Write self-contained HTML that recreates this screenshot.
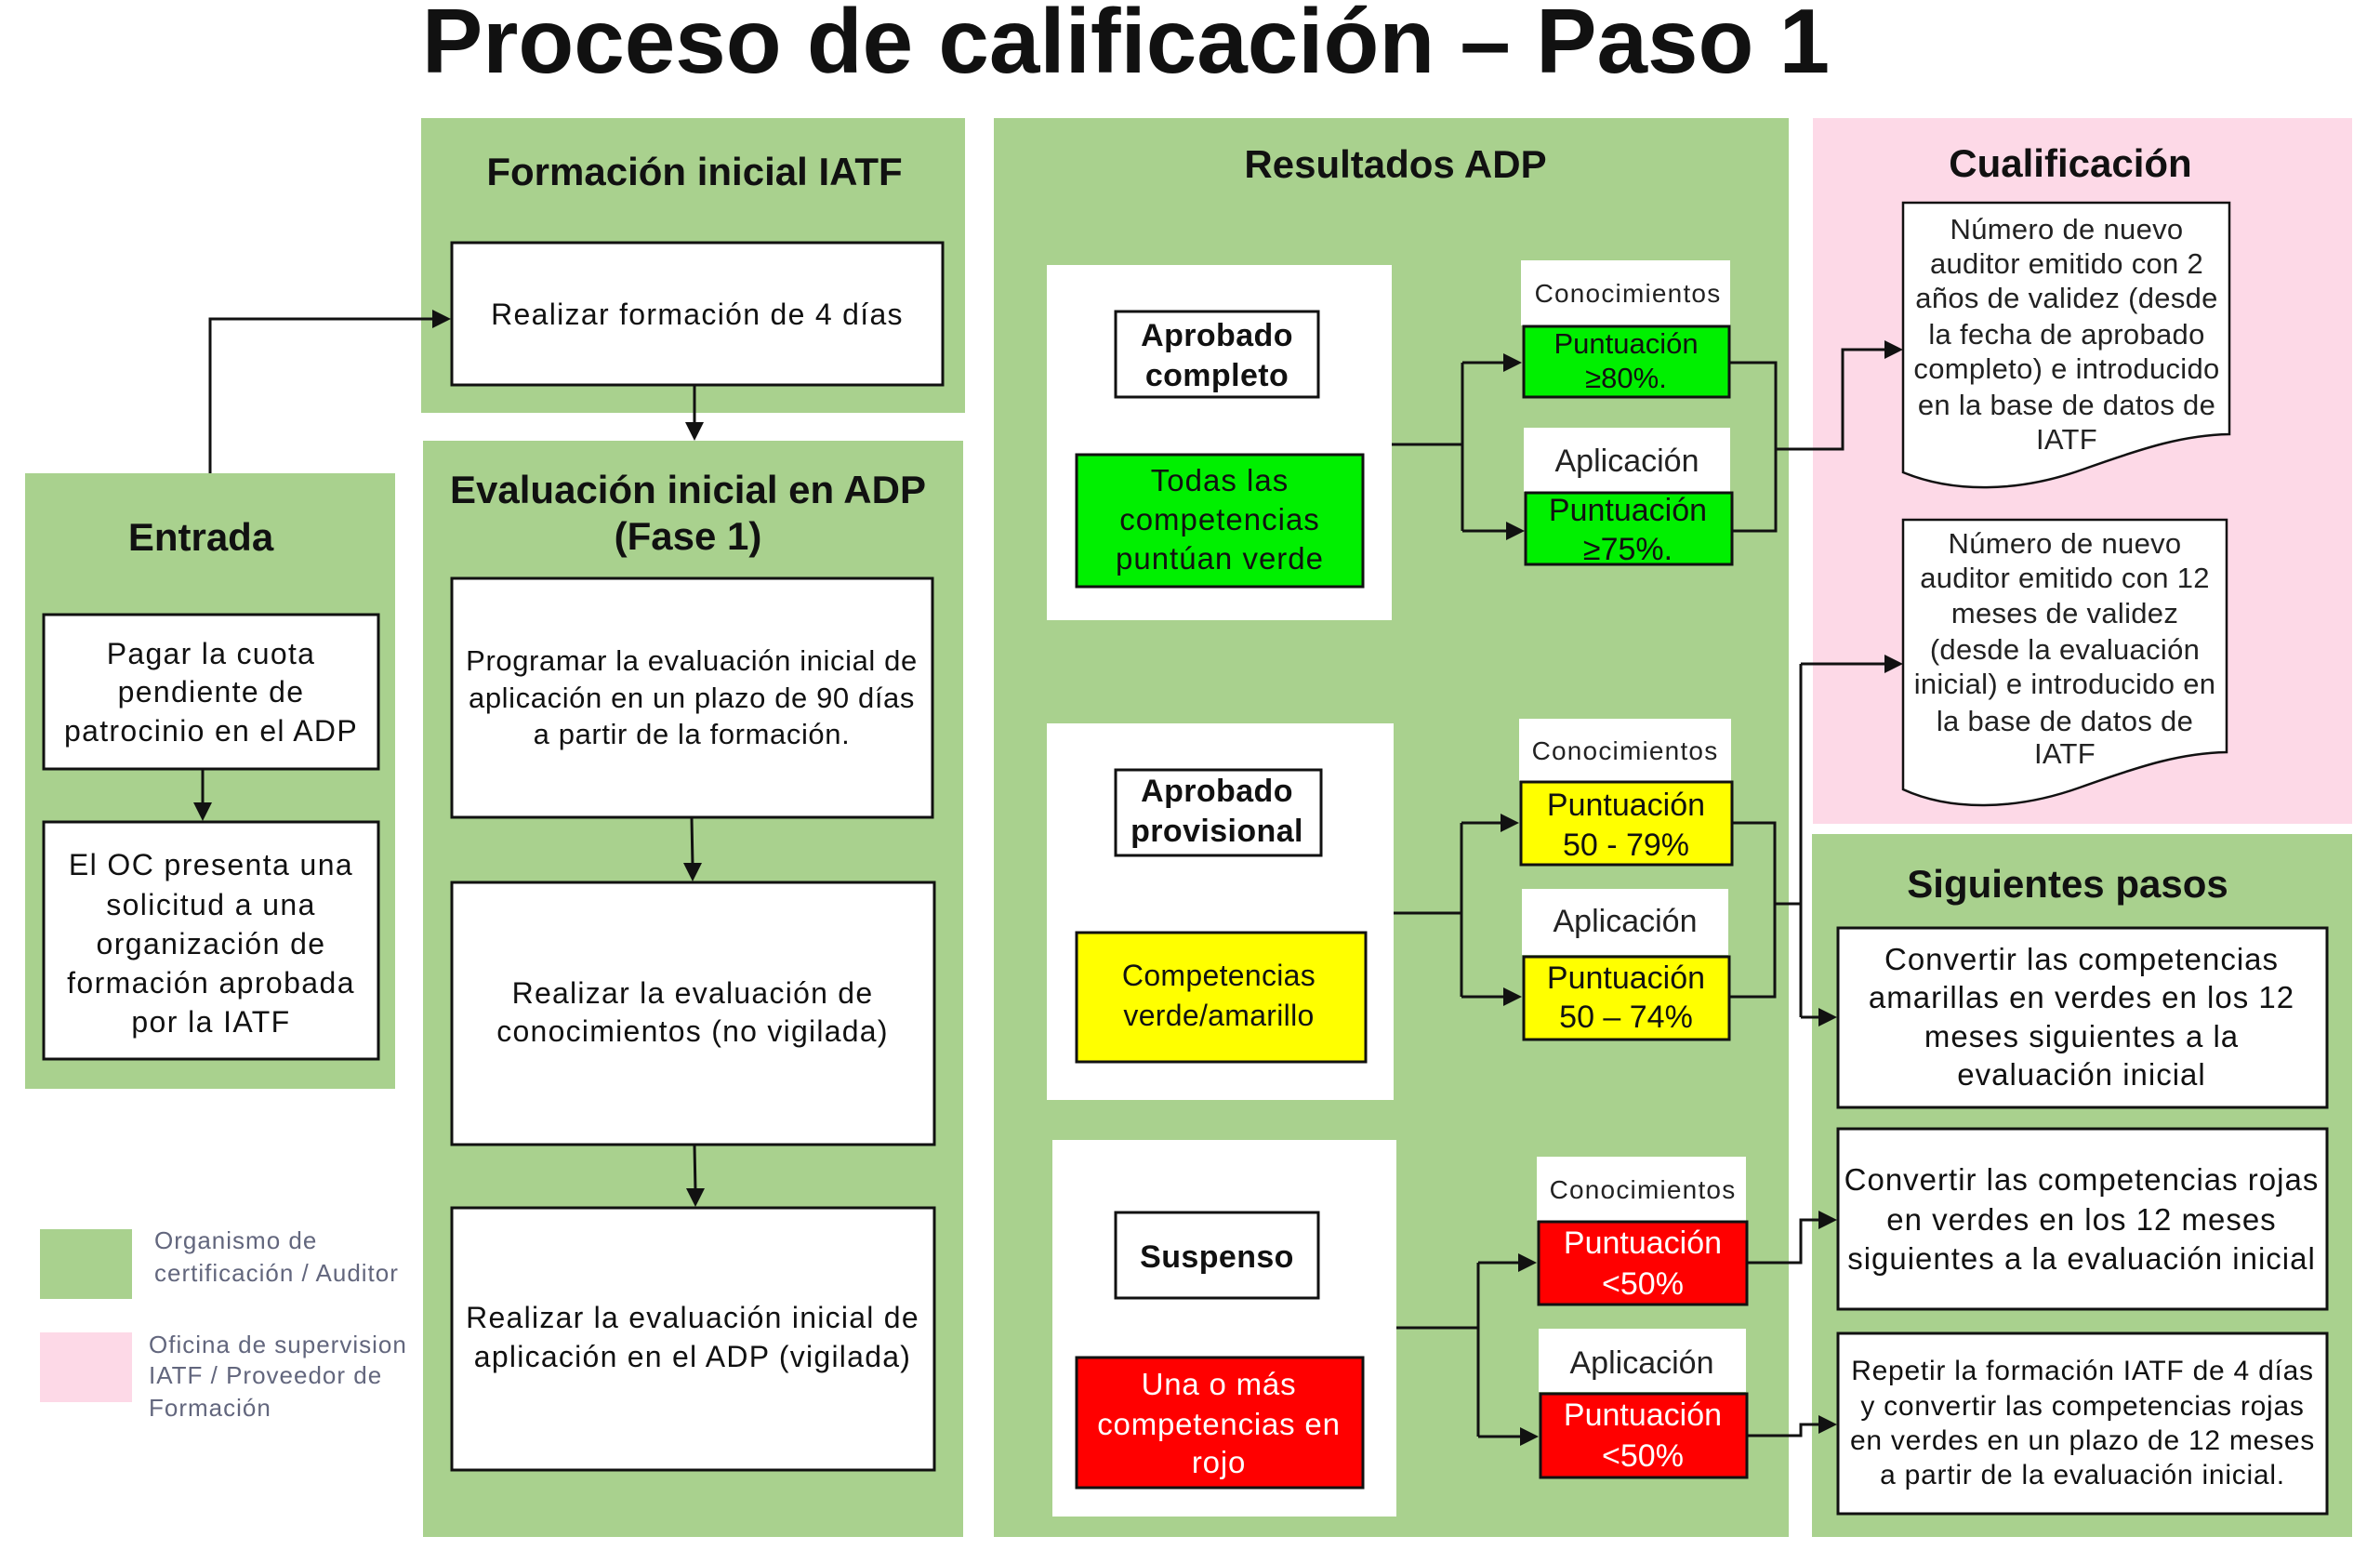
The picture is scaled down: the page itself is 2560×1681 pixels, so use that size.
<!DOCTYPE html>
<html><head><meta charset="utf-8"><style>
html,body{margin:0;padding:0;background:#fff;overflow:hidden;}
svg{display:block;}
text{font-family:"Liberation Sans",Arial,sans-serif;fill:#111;}
.h{font-size:42px;font-weight:bold;}
.t{font-size:32px;letter-spacing:1.3px;}
.bb{font-size:34px;font-weight:bold;letter-spacing:0.4px;}
.cn{font-size:28px;letter-spacing:1.2px;fill:#222;}
.ap{font-size:34px;fill:#222;}
.p{font-size:34px;}
.doc{font-size:31px;letter-spacing:0.3px;fill:#222;}
.sg{font-size:33px;letter-spacing:1px;}
.sg3{font-size:30px;letter-spacing:0.75px;}
.lg{font-size:26px;letter-spacing:1px;fill:#62667d;}
.w{fill:#fff;}
.ln{fill:none;stroke:#111;stroke-width:3;}
.bx{fill:#fff;stroke:#111;stroke-width:3;}
.ar{fill:#111;}
</style></head><body>
<svg width="2560" height="1681" viewBox="0 0 2560 1681" xmlns="http://www.w3.org/2000/svg">
<rect width="2560" height="1681" fill="#fff"/>

<!-- Title -->
<text x="1211" y="78" font-size="98" font-weight="bold" text-anchor="middle">Proceso de calificación – Paso 1</text>

<!-- Panels -->
<rect x="453" y="127" width="585" height="317" fill="#a9d18e"/>
<rect x="455" y="474" width="581" height="1179" fill="#a9d18e"/>
<rect x="27" y="509" width="398" height="662" fill="#a9d18e"/>
<rect x="1069" y="127" width="855" height="1526" fill="#a9d18e"/>
<rect x="1950" y="127" width="580" height="759" fill="#fdd9e7"/>
<rect x="1949" y="897" width="581" height="756" fill="#a9d18e"/>

<!-- Legend -->
<rect x="43" y="1322" width="99" height="75" fill="#a9d18e"/>
<rect x="43" y="1433" width="99" height="75" fill="#fdd9e7"/>
<text class="lg" x="166" y="1343">Organismo de</text>
<text class="lg" x="166" y="1378">certificación / Auditor</text>
<text class="lg" x="160" y="1455">Oficina de supervision</text>
<text class="lg" x="160" y="1488">IATF  / Proveedor de</text>
<text class="lg" x="160" y="1523">Formación</text>

<!-- Headers -->
<text class="h" x="747" y="199" text-anchor="middle">Formación inicial IATF</text>
<text class="h" x="740" y="541" text-anchor="middle">Evaluación inicial en ADP</text>
<text class="h" x="740" y="591" text-anchor="middle">(Fase 1)</text>
<text class="h" x="216" y="592" text-anchor="middle">Entrada</text>
<text class="h" x="1501" y="191" text-anchor="middle">Resultados ADP</text>
<text class="h" x="2227" y="190" text-anchor="middle">Cualificación</text>
<text class="h" x="2224" y="965" text-anchor="middle">Siguientes pasos</text>

<!-- Left column boxes -->
<rect class="bx" x="486" y="261" width="528" height="153"/>
<text class="t" x="750" y="349" text-anchor="middle">Realizar formación de 4 días</text>

<rect class="bx" x="486" y="622" width="517" height="257"/>
<text class="t" x="744" y="721" text-anchor="middle" style="font-size:31px;letter-spacing:0.6px">Programar la evaluación inicial de</text>
<text class="t" x="744" y="761" text-anchor="middle" style="font-size:31px;letter-spacing:0.6px">aplicación en un plazo de 90 días</text>
<text class="t" x="744" y="800" text-anchor="middle" style="font-size:31px;letter-spacing:0.6px">a partir de la formación.</text>

<rect class="bx" x="486" y="949" width="519" height="282"/>
<text class="t" x="745" y="1079" text-anchor="middle" style="letter-spacing:1.25px">Realizar la evaluación de</text>
<text class="t" x="745" y="1120" text-anchor="middle" style="letter-spacing:1.25px">conocimientos (no vigilada)</text>

<rect class="bx" x="486" y="1299" width="519" height="282"/>
<text class="t" x="745" y="1428" text-anchor="middle" style="letter-spacing:1.25px">Realizar la evaluación inicial de</text>
<text class="t" x="745" y="1470" text-anchor="middle" style="letter-spacing:1.25px">aplicación en el ADP (vigilada)</text>

<rect class="bx" x="47" y="661" width="360" height="166"/>
<text class="t" x="227" y="714" text-anchor="middle">Pagar la cuota</text>
<text class="t" x="227" y="755" text-anchor="middle">pendiente de</text>
<text class="t" x="227" y="797" text-anchor="middle">patrocinio en el ADP</text>

<rect class="bx" x="47" y="884" width="360" height="255"/>
<text class="t" x="227" y="941" text-anchor="middle" style="letter-spacing:1.4px">El OC presenta una</text>
<text class="t" x="227" y="984" text-anchor="middle" style="letter-spacing:1.4px">solicitud a una</text>
<text class="t" x="227" y="1026" text-anchor="middle" style="letter-spacing:1.4px">organización de</text>
<text class="t" x="227" y="1068" text-anchor="middle" style="letter-spacing:1.4px">formación aprobada</text>
<text class="t" x="227" y="1110" text-anchor="middle" style="letter-spacing:1.4px">por la IATF</text>

<!-- Left connectors -->
<path class="ln" d="M226,509 V343 H468"/>
<polygon class="ar" points="485,343 465,333 465,353"/>
<path class="ln" d="M218,828 V866"/>
<polygon class="ar" points="218,883 208,863 228,863"/>
<path class="ln" d="M747,415 V457"/>
<polygon class="ar" points="747,474 737,454 757,454"/>
<path class="ln" d="M744,880 L745,931"/>
<polygon class="ar" points="745,948 735,928 755,928"/>
<path class="ln" d="M747,1232 L748,1281"/>
<polygon class="ar" points="748,1298 738,1278 758,1278"/>

<!-- Resultados: panel A -->
<rect x="1126" y="285" width="371" height="382" fill="#fff"/>
<rect class="bx" x="1200" y="335" width="218" height="92"/>
<text class="bb" x="1309" y="372" text-anchor="middle">Aprobado</text>
<text class="bb" x="1309" y="415" text-anchor="middle">completo</text>
<rect x="1158" y="489" width="308" height="142" fill="#00f000" stroke="#111" stroke-width="3"/>
<text class="t" x="1312" y="528" text-anchor="middle" style="font-size:33px;letter-spacing:1px">Todas las</text>
<text class="t" x="1312" y="570" text-anchor="middle" style="font-size:33px;letter-spacing:1px">competencias</text>
<text class="t" x="1312" y="612" text-anchor="middle" style="font-size:33px;letter-spacing:1px">puntúan verde</text>

<rect x="1636" y="280" width="225" height="70" fill="#fff"/>
<text class="cn" x="1751" y="325" text-anchor="middle">Conocimientos</text>
<rect x="1639" y="351" width="221" height="76" fill="#00f000" stroke="#111" stroke-width="3"/>
<text class="p" x="1749" y="380" text-anchor="middle" style="font-size:31px">Puntuación</text>
<text class="p" x="1749" y="417" text-anchor="middle" style="font-size:31px">≥80%.</text>
<rect x="1639" y="460" width="222" height="69" fill="#fff"/>
<text class="ap" x="1750" y="507" text-anchor="middle">Aplicación</text>
<rect x="1641" y="530" width="222" height="77" fill="#00f000" stroke="#111" stroke-width="3"/>
<text class="p" x="1751" y="560" text-anchor="middle">Puntuación</text>
<text class="p" x="1751" y="602" text-anchor="middle">≥75%.</text>

<path class="ln" d="M1497,478 H1573 M1573,390 V571 M1573,390 H1620 M1573,571 H1623"/>
<polygon class="ar" points="1637,390 1617,380 1617,400"/>
<polygon class="ar" points="1640,571 1620,561 1620,581"/>
<path class="ln" d="M1861,390 H1910 V571 H1864 M1910,483 H1982 V376 H2030"/>
<polygon class="ar" points="2047,376 2027,366 2027,386"/>

<!-- Resultados: panel B -->
<rect x="1126" y="778" width="373" height="405" fill="#fff"/>
<rect class="bx" x="1200" y="828" width="221" height="92"/>
<text class="bb" x="1309" y="862" text-anchor="middle">Aprobado</text>
<text class="bb" x="1309" y="905" text-anchor="middle">provisional</text>
<rect x="1158" y="1003" width="311" height="139" fill="#ffff00" stroke="#111" stroke-width="3"/>
<text class="t" x="1311" y="1060" text-anchor="middle" style="letter-spacing:0.3px">Competencias</text>
<text class="t" x="1311" y="1103" text-anchor="middle" style="letter-spacing:0.3px">verde/amarillo</text>

<rect x="1634" y="773" width="228" height="67" fill="#fff"/>
<text class="cn" x="1748" y="817" text-anchor="middle">Conocimientos</text>
<rect x="1636" y="841" width="227" height="89" fill="#ffff00" stroke="#111" stroke-width="3"/>
<text class="p" x="1749" y="877" text-anchor="middle">Puntuación</text>
<text class="p" x="1749" y="920" text-anchor="middle">50 - 79%</text>
<rect x="1637" y="956" width="222" height="71" fill="#fff"/>
<text class="ap" x="1748" y="1002" text-anchor="middle">Aplicación</text>
<rect x="1639" y="1029" width="221" height="89" fill="#ffff00" stroke="#111" stroke-width="3"/>
<text class="p" x="1749" y="1063" text-anchor="middle">Puntuación</text>
<text class="p" x="1749" y="1105" text-anchor="middle">50 – 74%</text>

<path class="ln" d="M1499,982 H1572 M1572,885 V1072 M1572,885 H1617 M1572,1072 H1620"/>
<polygon class="ar" points="1634,885 1614,875 1614,895"/>
<polygon class="ar" points="1637,1072 1617,1062 1617,1082"/>
<path class="ln" d="M1864,885 H1909 V1072 H1861 M1909,972 H1937 M1937,714 V1094 M1937,714 H2030 M1937,1094 H1959"/>
<polygon class="ar" points="2047,714 2027,704 2027,724"/>
<polygon class="ar" points="1976,1094 1956,1084 1956,1104"/>

<!-- Resultados: panel C -->
<rect x="1132" y="1226" width="370" height="405" fill="#fff"/>
<rect class="bx" x="1200" y="1304" width="218" height="92"/>
<text class="bb" x="1309" y="1363" text-anchor="middle">Suspenso</text>
<rect x="1158" y="1460" width="308" height="140" fill="#ff0000" stroke="#111" stroke-width="3"/>
<text class="t w" x="1311" y="1500" text-anchor="middle" style="font-size:33px;letter-spacing:0.8px">Una o más</text>
<text class="t w" x="1311" y="1543" text-anchor="middle" style="font-size:33px;letter-spacing:0.8px">competencias en</text>
<text class="t w" x="1311" y="1584" text-anchor="middle" style="font-size:33px;letter-spacing:0.8px">rojo</text>

<rect x="1653" y="1244" width="225" height="69" fill="#fff"/>
<text class="cn" x="1767" y="1289" text-anchor="middle">Conocimientos</text>
<rect x="1655" y="1314" width="224" height="89" fill="#ff0000" stroke="#111" stroke-width="3"/>
<text class="p w" x="1767" y="1348" text-anchor="middle">Puntuación</text>
<text class="p w" x="1767" y="1392" text-anchor="middle">&lt;50%</text>
<rect x="1655" y="1429" width="223" height="68" fill="#fff"/>
<text class="ap" x="1766" y="1477" text-anchor="middle">Aplicación</text>
<rect x="1657" y="1499" width="222" height="90" fill="#ff0000" stroke="#111" stroke-width="3"/>
<text class="p w" x="1767" y="1533" text-anchor="middle">Puntuación</text>
<text class="p w" x="1767" y="1577" text-anchor="middle">&lt;50%</text>

<path class="ln" d="M1502,1428 H1590 M1590,1358 V1545 M1590,1358 H1636 M1590,1545 H1638"/>
<polygon class="ar" points="1653,1358 1633,1348 1633,1368"/>
<polygon class="ar" points="1655,1545 1635,1535 1635,1555"/>
<path class="ln" d="M1880,1358 H1937 V1312 H1959 M1880,1544 H1937 V1532 H1959"/>
<polygon class="ar" points="1976,1312 1956,1302 1956,1322"/>
<polygon class="ar" points="1976,1532 1956,1522 1956,1542"/>

<!-- Documents -->
<path d="M2047,218 H2398 V467 C2350,468 2310,480 2240,505 C2170,530 2100,530 2047,508 Z" fill="#fff" stroke="#111" stroke-width="2.5"/>
<text class="doc" x="2223" y="257" text-anchor="middle">Número de nuevo</text>
<text class="doc" x="2223" y="294" text-anchor="middle">auditor emitido con 2</text>
<text class="doc" x="2223" y="331" text-anchor="middle">años de validez (desde</text>
<text class="doc" x="2223" y="370" text-anchor="middle">la fecha de aprobado</text>
<text class="doc" x="2223" y="407" text-anchor="middle">completo) e introducido</text>
<text class="doc" x="2223" y="446" text-anchor="middle">en la base de datos de</text>
<text class="doc" x="2223" y="483" text-anchor="middle">IATF</text>

<path d="M2047,559 H2395 V809 C2347,810 2307,822 2237,847 C2167,872 2097,872 2047,849 Z" fill="#fff" stroke="#111" stroke-width="2.5"/>
<text class="doc" x="2221" y="595" text-anchor="middle">Número de nuevo</text>
<text class="doc" x="2221" y="632" text-anchor="middle">auditor emitido con 12</text>
<text class="doc" x="2221" y="670" text-anchor="middle">meses de validez</text>
<text class="doc" x="2221" y="709" text-anchor="middle">(desde la evaluación</text>
<text class="doc" x="2221" y="746" text-anchor="middle">inicial) e introducido en</text>
<text class="doc" x="2221" y="786" text-anchor="middle">la base de datos de</text>
<text class="doc" x="2221" y="821" text-anchor="middle">IATF</text>

<!-- Siguientes pasos boxes -->
<rect class="bx" x="1977" y="998" width="526" height="193"/>
<text class="sg" x="2239" y="1043" text-anchor="middle">Convertir las competencias</text>
<text class="sg" x="2239" y="1084" text-anchor="middle">amarillas en verdes en los 12</text>
<text class="sg" x="2239" y="1126" text-anchor="middle">meses siguientes a la</text>
<text class="sg" x="2239" y="1167" text-anchor="middle">evaluación inicial</text>

<rect class="bx" x="1977" y="1214" width="526" height="194"/>
<text class="sg" x="2239" y="1280" text-anchor="middle">Convertir las competencias rojas</text>
<text class="sg" x="2239" y="1323" text-anchor="middle">en verdes en los 12 meses</text>
<text class="sg" x="2239" y="1365" text-anchor="middle">siguientes a la evaluación inicial</text>

<rect class="bx" x="1977" y="1434" width="526" height="194"/>
<text class="sg3" x="2240" y="1484" text-anchor="middle">Repetir la formación IATF de 4 días</text>
<text class="sg3" x="2240" y="1522" text-anchor="middle">y convertir las competencias rojas</text>
<text class="sg3" x="2240" y="1559" text-anchor="middle">en verdes en un plazo de 12 meses</text>
<text class="sg3" x="2240" y="1596" text-anchor="middle">a partir de la evaluación inicial.</text>
</svg>
</body></html>
